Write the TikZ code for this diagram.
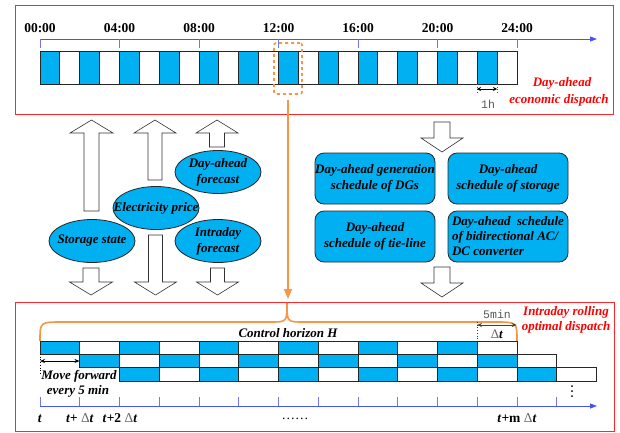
\documentclass[tikz,border=0pt]{standalone}
\usepackage{fontspec}
\setmainfont{Liberation Serif}
\newfontfamily\monofont{Liberation Mono}
\usetikzlibrary{arrows.meta,shapes.geometric}
\definecolor{cellblue}{RGB}{0,176,240}
\definecolor{axisblue}{RGB}{70,85,240}
\definecolor{dorange}{RGB}{247,150,70}
\definecolor{redbox}{RGB}{255,40,40}
\tikzset{
  bi/.style={font=\fontsize{13}{16}\selectfont\bfseries\itshape},
  tlabel/.style={font=\fontsize{13.5}{15}\selectfont\bfseries},
  ell/.style={ellipse,draw=black!85,line width=0.8pt,fill=cellblue,minimum width=86pt,minimum height=43pt,inner sep=0pt},
  elltext/.style={align=center,bi,inner sep=0pt},
  rbox/.style={rectangle,rounded corners=9pt,draw=black!85,line width=0.8pt,fill=cellblue,minimum width=120pt,minimum height=51pt,inner sep=0pt,align=center,bi},
  bigarrow/.style={draw=black!80,fill=white,line width=0.6pt,line join=miter},
  cellstyle/.style={draw=black!85,line width=0.8pt},
  axisline/.style={draw=axisblue,line width=0.8pt,-{Triangle[width=5pt,length=7pt]}},
  tick/.style={draw=axisblue!80,line width=0.8pt},
  redframe/.style={draw=redbox,line width=0.8pt},
  orangeline/.style={draw=dorange,line width=1.6pt},
  redtext/.style={bi,text=red},
  smalltext/.style={font=\fontsize{11.5}{13}\selectfont\monofont,text=black!65},
}
\newcommand{\blockarrow}[6]{% cx, tip y, end y, head half, shaft half, head length (signed)
  \draw[bigarrow] (#1,#2) -- (#1+#4,#2+#6) -- (#1+#5,#2+#6) -- (#1+#5,#3) -- (#1-#5,#3) -- (#1-#5,#2+#6) -- (#1-#4,#2+#6) -- cycle;}
\begin{document}
\begin{tikzpicture}[x=1pt,y=-1pt]
\useasboundingbox[fill=white] (0,0) rectangle (620,432);
% ---------- top frame ----------
\draw[redframe] (15,5) rectangle (613,114);
\draw[axisline] (40,39) -- (597,39);
\foreach \k/\lab in {0/00:00,1/04:00,2/08:00,3/12:00,4/16:00,5/20:00,6/24:00}{
  \draw[tick] (40+79.5*\k,39) -- (40+79.5*\k,48);
  \node[tlabel] (h\k) at (40+79.5*\k,28) {\lab};
}
\foreach \i in {0,...,23}{
  \ifodd\i
    \draw[cellstyle,fill=white] (40+19.875*\i,51) rectangle (40+19.875*\i+19.875,84);
  \else
    \draw[cellstyle,fill=cellblue] (40+19.875*\i,51) rectangle (40+19.875*\i+19.875,84);
  \fi
}
\node[draw=dorange,dashed,line width=1.6pt,rounded corners=2pt,minimum width=28pt,minimum height=51pt,inner sep=0pt] (zoombox) at (288,68.5) {};
\draw[black!70,dotted,line width=0.6pt] (477,84) -- (477,93) (497,84) -- (497,93);
\coordinate (oh1) at (477,89);
\coordinate (oh2) at (497,89);
\draw[black,line width=0.7pt,{Stealth[length=4pt,width=4pt]}-{Stealth[length=4pt,width=4pt]}] (oh1) -- (oh2);
\node[smalltext] (oneh) at (488,104) {1h};
\node[redtext] (da1) at (562,83) {Day-ahead};
\node[redtext] (da2) at (559,100) {economic dispatch};
% ---------- middle left ----------
\blockarrow{91.5}{120}{211}{21.5}{7.5}{13}
\blockarrow{155}{120}{180}{21}{7}{13}
\blockarrow{217}{120}{147}{21}{7.5}{13}
\blockarrow{91}{295}{268}{21.5}{8}{-13}
\blockarrow{155.5}{295}{235}{21}{7}{-13}
\blockarrow{217.5}{295}{268}{21}{7}{-13}
\node[ell] (daf) at (218,172) {};
\node[elltext] (daft) at (daf) {Day-ahead\\forecast};
\node[ell] (price) at (156,208) {};
\node[elltext] (pricet) at (price) {Electricity price};
\node[ell] (stor) at (92,241) {};
\node[elltext] (stort) at (stor) {Storage state};
\node[ell] (idf) at (218,241) {};
\node[elltext] (idft) at (idf) {Intraday\\forecast};
% ---------- middle right ----------
\blockarrow{442}{152}{122}{21}{8}{-14}
\blockarrow{442}{297}{267}{21}{8}{-14}
\node[rbox] (b1) at (375,178.5) {Day-ahead generation\\schedule of DGs};
\node[rbox] (b2) at (508,178.5) {Day-ahead\\schedule of storage};
\node[rbox] (b3) at (375,236.5) {Day-ahead\\schedule of tie-line};
\node[rbox,align=left,font=\fontsize{13}{15}\selectfont\bfseries\itshape] (b4) at (508,236.5) {Day-ahead\ \ schedule\\of bidirectional AC/\\DC converter};
% ---------- orange link ----------
\coordinate (oa) at (288,100);
\coordinate (ob) at (288,299);
\draw[orangeline,-{Triangle[width=8pt,length=10pt]}] (oa) -- (ob);
% ---------- bottom frame ----------
\draw[redframe] (15,302) rectangle (614,431);
\draw[orangeline] (40,341) .. controls (40,322) .. (62,322) -- (270,322) .. controls (287,322) .. (287,303) .. controls (287,322) .. (304,322) -- (495,322) .. controls (517,322) .. (517,341);
\node[bi] (ch) at (288,333) {Control horizon \textit{H}};
\foreach \r in {0,1,2}{
  \foreach \i in {0,...,11}{
    \ifodd\i
      \draw[cellstyle,fill=white] (40+39.75*\r+39.75*\i,341+13.3*\r) rectangle (40+39.75*\r+39.75*\i+39.75,354.3+13.3*\r);
    \else
      \draw[cellstyle,fill=cellblue] (40+39.75*\r+39.75*\i,341+13.3*\r) rectangle (40+39.75*\r+39.75*\i+39.75,354.3+13.3*\r);
    \fi
  }
}
\draw[black,dotted,line width=0.7pt] (40,354) -- (40,373);
\coordinate (mf1) at (40,361);
\coordinate (mf2) at (79.5,361);
\draw[black,line width=0.7pt,{Stealth[length=5pt,width=4pt]}-{Stealth[length=5pt,width=4pt]}] (mf1) -- (mf2);
\node[bi] (mv1) at (79,376) {Move forward};
\node[bi] (mv2) at (78,391) {every 5 min};
\draw[black!80,dotted,line width=0.7pt] (477,322) -- (477,341);
\coordinate (fm1) at (477,325);
\coordinate (fm2) at (516.75,325);
\draw[black!75,line width=0.8pt,{Stealth[length=5pt,width=4pt]}-{Stealth[length=5pt,width=4pt]}] (fm1) -- (fm2);
\node[smalltext] (fivemin) at (497,314) {5min};
\node[font=\fontsize{13}{14}\selectfont] (dtl) at (497,334) {{\color{black!60}Δ}\textbf{\textit{t}}};
\node[redtext] (ir1) at (566,312) {Intraday rolling};
\node[redtext] (ir2) at (566,327) {optimal dispatch};
\foreach \y in {386,391,396}{\fill[black] (572,\y) circle (1pt);}
\draw[axisline] (40,406) -- (597,406);
\foreach \k in {0,...,13}{
  \draw[tick] (40+39.75*\k,397) -- (40+39.75*\k,406);
}
\tikzset{tl/.style={anchor=base,font=\fontsize{13.5}{15}\selectfont}}
\node[tl] (l0) at (40,422) {\textbf{\textit{t}}};
\node[tl] (l1) at (80,422) {\textbf{\textit{t+}} {\color{black!60}Δ}\textbf{\textit{t}}};
\node[tl] (l2) at (120,422) {\textbf{\textit{t}+2} {\color{black!60}Δ}\textbf{\textit{t}}};
\node[tl] (ldots) at (295,419) {……};
\node[tl] (lm) at (517,422) {\textbf{\textit{t}+m} {\color{black!60}Δ}\textbf{\textit{t}}};
\end{tikzpicture}
\end{document}
